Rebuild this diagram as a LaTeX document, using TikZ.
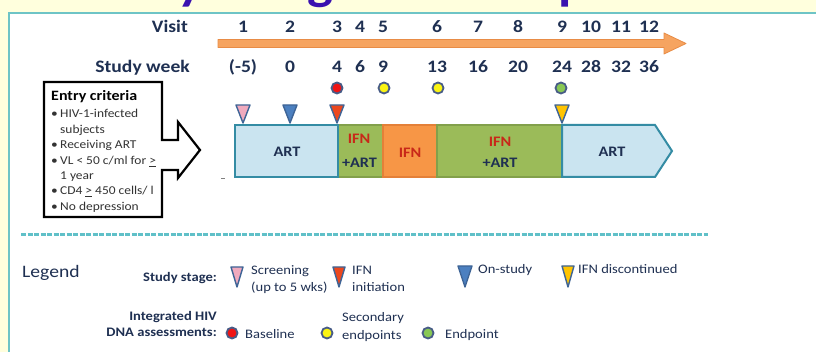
\documentclass[tikz,border=0pt]{standalone}
\usepackage{fontspec}
\setmainfont{Carlito}[FakeStretch=1.12]

\definecolor{bgyellow}{RGB}{255,255,221}
\definecolor{panelteal}{RGB}{110,196,198}
\definecolor{navy}{RGB}{31,48,82}
\definecolor{titlepurple}{RGB}{58,18,176}
\definecolor{arroworange}{RGB}{246,164,96}
\definecolor{arrowedge}{RGB}{232,140,70}
\definecolor{artblue}{RGB}{202,228,240}
\definecolor{artedge}{RGB}{52,140,164}
\definecolor{ifngreen}{RGB}{155,187,89}
\definecolor{ifngreenedge}{RGB}{130,160,75}
\definecolor{ifnorange}{RGB}{247,150,70}
\definecolor{ifnorangeedge}{RGB}{228,128,56}
\definecolor{ifnred}{RGB}{200,40,25}
\definecolor{markedge}{RGB}{62,100,150}
\definecolor{dotedge}{RGB}{72,92,135}
\definecolor{screenpink}{RGB}{240,170,190}
\definecolor{onstudyblue}{RGB}{76,128,192}
\definecolor{startred}{RGB}{236,72,30}
\definecolor{stopyellow}{RGB}{255,196,0}
\definecolor{dotred}{RGB}{240,20,20}
\definecolor{dotyellow}{RGB}{250,244,20}
\definecolor{dotgreen}{RGB}{136,200,84}
\definecolor{septeal}{RGB}{96,192,200}

\newcommand\fsz[2]{\fontsize{#1}{#2}\selectfont}
% downward stage triangle: centre x, top y, width, height, fill colour
\newcommand\stagetri[5]{%
  \filldraw[fill=#5,draw=markedge,line width=1.4pt,line join=round]
    ({#1-#3/2},#2) -- ({#1+#3/2},#2) -- (#1,{#2+#4}) -- cycle;}

\begin{document}
\begin{tikzpicture}[x=1pt,y=-1pt,
  axislbl/.style={text=navy,inner sep=0pt,font=\fsz{17.5}{20}\bfseries},
  barlbl/.style={inner sep=0pt,font=\fsz{14.5}{17}\bfseries,text=navy},
  ifnlbl/.style={barlbl,text=ifnred},
  entrytxt/.style={inner sep=0pt,font=\fsz{12}{15}\color{black!80},anchor=base west},
  legtxt/.style={inner sep=0pt,font=\fsz{13}{16},text=navy,anchor=base west},
  legbold/.style={inner sep=0pt,font=\fsz{13}{16}\bfseries,text=navy,anchor=base east},
  dot/.style={circle,draw=dotedge,line width=1.8pt,minimum size=11pt,inner sep=0pt},
]
\useasboundingbox (0,0) rectangle (816,352);
\fill[bgyellow] (0,0) rectangle (816,352);

% slide title, cut by the panel
\begin{scope}
  \clip (0,0) rectangle (816,13);
  \node[anchor=base west,inner sep=0pt,text=titlepurple,font=\fsz{48.7}{50}\bfseries]
    (title) at (74,0) {Study design and endpoints};
\end{scope}

% white panel
\filldraw[fill=white,draw=panelteal,line width=2pt] (9,13) rectangle (830,370);

% timeline arrow
\filldraw[fill=arroworange,draw=arrowedge,line width=0.8pt,line join=round]
  (218,39.5) -- (664,39.5) -- (664,33) -- (686,43.5) -- (664,54) -- (664,47.5)
  -- (218,47.5) -- cycle;

% axis headings
\node[axislbl,anchor=base east] (visit) at (188,33) {Visit};
\node[axislbl,anchor=base east] (week) at (190,73) {Study week};
\foreach \x/\v/\w [count=\i] in {243/1/(-5),290/2/0,337/3/4,360/4/6,383/5/9,
    437/6/13,478/7/16,518/8/20,562/9/24,591/10/28,621/11/32,649/12/36}{
  \node[axislbl,anchor=base] (v\i) at (\x,33) {\v};
  \node[axislbl,anchor=base] (w\i) at (\x,73) {\w};
}

% DNA assessment dots
\node[dot,fill=dotred] (d3) at (337,88) {};
\node[dot,fill=dotyellow] (d5) at (384,88) {};
\node[dot,fill=dotyellow] (d6) at (438,88) {};
\node[dot,fill=dotgreen] (d9) at (561,88) {};

% study stage bar
\filldraw[fill=ifngreen,draw=ifngreenedge,line width=1.5pt] (338,125) rectangle (383,177);
\filldraw[fill=ifnorange,draw=ifnorangeedge,line width=1.5pt] (383,125) rectangle (437,177);
\filldraw[fill=ifngreen,draw=ifngreenedge,line width=1.5pt] (437,125) rectangle (562,177);
\filldraw[fill=artblue,draw=artedge,line width=2pt] (235,125) rectangle (338,177);
\filldraw[fill=artblue,draw=artedge,line width=2pt,line join=miter]
  (562,125) -- (655,125) -- (672,151) -- (655,177) -- (562,177) -- cycle;
\draw[gray,line width=0.8pt] (221,178) -- (225,178);

\node[barlbl] (art1) at (287,152) {ART};
\node[ifnlbl] (ifn1) at (359,139) {IFN};
\node[barlbl] (art2) at (359.5,163) {+ART};
\node[ifnlbl] (ifn2) at (410,153) {IFN};
\node[ifnlbl] (ifn3) at (500,142) {IFN};
\node[barlbl] (art3) at (500,163) {+ART};
\node[barlbl] (art4) at (612,152) {ART};

% stage markers on the bar
\stagetri{243}{105}{14}{18}{screenpink}
\stagetri{290}{105}{14}{18}{onstudyblue}
\stagetri{337}{105}{14}{18}{startred}
\stagetri{562}{105}{14}{18}{stopyellow}

% entry criteria callout
\filldraw[fill=white,draw=black,line width=2.2pt,line join=miter]
  (44,82) -- (162,82) -- (162,140) -- (178,140) -- (178,122) -- (200,150)
  -- (178,178) -- (178,170) -- (162,170) -- (162,217) -- (44,217) -- cycle;
\node[anchor=base west,inner sep=0pt,font=\fsz{14.3}{16}\bfseries] (entry) at (51,101) {Entry criteria};
\foreach \y/\b/\t [count=\i] in {118/\textbullet/HIV-1-infected, 134//subjects,
    149/\textbullet/Receiving ART, 165/\textbullet/{VL < 50 c/ml for \underline{>}},
    180//1 year, 195/\textbullet/{CD4 \underline{>} 450 cells/ l},
    211/\textbullet/No depression}{
  \node[entrytxt] (eb\i) at (51,\y) {\b};
  \node[entrytxt] (et\i) at (60,\y) {\t};
}

% separator
\draw[septeal,line width=3pt,dash pattern=on 5pt off 1.5pt] (21,235) -- (708,235);

% legend
\node[inner sep=0pt,font=\fsz{17.5}{20},text=navy,anchor=base west] (legend) at (22,278) {Legend};
\node[legbold] (stage) at (217,282) {Study stage:};
\stagetri{237}{267}{12}{20}{screenpink}
\node[legtxt] (scr1) at (251,275) {Screening};
\node[legtxt] (scr2) at (251,292) {(up to 5 wks)};
\stagetri{339}{267}{12}{20}{startred}
\node[legtxt] (ini1) at (352,275) {IFN};
\node[legtxt] (ini2) at (352,292) {initiation};
\stagetri{465}{266}{14}{21}{onstudyblue}
\node[legtxt] (ons) at (478,274) {On-study};
\stagetri{568}{266}{12}{21}{stopyellow}
\node[legtxt] (disc) at (578,274) {IFN discontinued};

\node[legbold] (dna1) at (217,320) {Integrated HIV};
\node[legbold] (dna2) at (217,337) {DNA assessments:};
\node[dot,fill=dotred] (lgred) at (232,333) {};
\node[legtxt] (base) at (245,338) {Baseline};
\node[dot,fill=dotyellow] (lgyel) at (327,333) {};
\node[legtxt] (sec1) at (342,322) {Secondary};
\node[legtxt] (sec2) at (342,339) {endpoints};
\node[dot,fill=dotgreen] (lggrn) at (428,333) {};
\node[legtxt] (endp) at (445,338) {Endpoint};
\end{tikzpicture}
\end{document}
